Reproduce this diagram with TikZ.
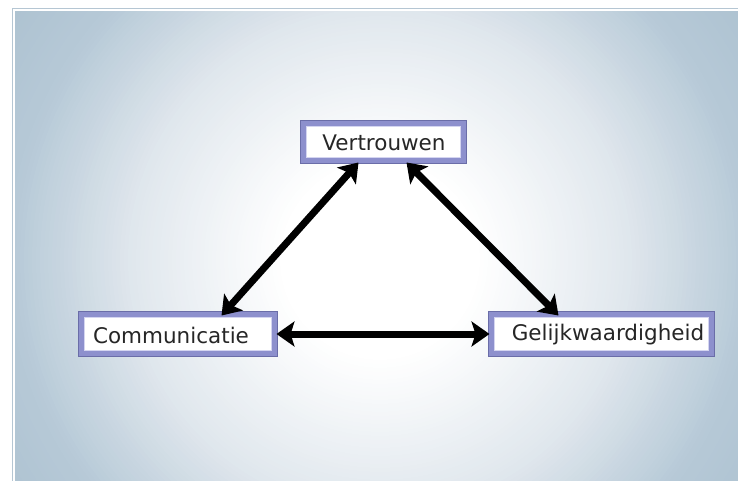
\documentclass[tikz,border=0pt]{standalone}
\usepackage{fontspec}
\setmainfont{DejaVu Sans}
\usetikzlibrary{arrows.meta}
\definecolor{bgmid}{HTML}{E0E7ED}
\definecolor{bgblue}{HTML}{B6C9D7}
\definecolor{bgdark}{HTML}{A6BCCB}
\definecolor{framedark}{HTML}{6A6DA8}
\definecolor{framemid}{HTML}{8D90CD}
\definecolor{framelight}{HTML}{D4D5F0}
\definecolor{edgegray}{HTML}{B5C6D3}
\tikzset{
  lbox/.style={rectangle, outer sep=0pt, inner sep=0pt, fill=white,
    draw=framemid, line width=5pt,
    preaction={draw=framedark, line width=7pt}},
  ltext/.style={font=\fontsize{21.5}{25}\selectfont, text=black!85},
  conn/.style={line width=7pt, {Stealth[length=18pt,width=25pt,inset=4pt]}-{Stealth[length=18pt,width=25pt,inset=4pt]}, black}
}
\begin{document}
\begin{tikzpicture}[x=1pt,y=-1pt]
\useasboundingbox (0,0) rectangle (738,481);
\fill[white] (0,0) rectangle (738,481);
\begin{scope}
\clip (14,10) rectangle (738,481);
\foreach \i in {0,...,105}{
  \pgfmathsetmacro\r{520-4*\i}
  \pgfmathsetmacro\seg{\r<=100 ? 0 : (\r<=250 ? 1 : (\r<=370 ? 2 : 3))}
  \ifcase\seg\relax
    \colorlet{cc}{white}
  \or
    \pgfmathsetmacro\p{(\r-100)/150*100}
    \colorlet{cc}{bgmid!\p!white}
  \or
    \pgfmathsetmacro\p{(\r-250)/120*100}
    \colorlet{cc}{bgblue!\p!bgmid}
  \else
    \pgfmathsetmacro\p{min(100,(\r-370)/150*100)}
    \colorlet{cc}{bgdark!\p!bgblue}
  \fi
  \fill[cc] (380,260) circle[radius=\r];
}
\end{scope}
\draw[edgegray, line width=1.2pt] (12.5,481) -- (12.5,8.5) -- (738,8.5);
\draw[white, line width=1.2pt] (14,481) -- (14,10) -- (738,10);
% boxes
\node[lbox, minimum width=160pt, minimum height=37pt] (v) at (383.5,142) {};
\node[lbox, minimum width=193pt, minimum height=39pt] (c) at (178,334) {};
\node[lbox, minimum width=220pt, minimum height=39pt] (g) at (601.5,334) {};
\foreach \n in {v,c,g}{
  \draw[framelight, line width=1.5pt] ([shift={(3.2,3.2)}]\n.north west) rectangle ([shift={(-3.2,-3.2)}]\n.south east);
}
\node[ltext] (vt) at (384,143) {Vertrouwen};
\node[ltext] (ct) at (171,335) {Communicatie};
\node[ltext] (gt) at (608,335) {Gelijkwaardigheid};
% connectors
\draw[conn] ([xshift=55pt,yshift=-2pt]v.south west) -- ([xshift=140pt,yshift=-1pt]c.north west);
\draw[conn] ([xshift=-57pt,yshift=-2pt]v.south east) -- ([xshift=67pt,yshift=-1pt]g.north west);
\draw[conn] ([xshift=2pt]c.east) -- ([xshift=-2pt]g.west);
\end{tikzpicture}
\end{document}
